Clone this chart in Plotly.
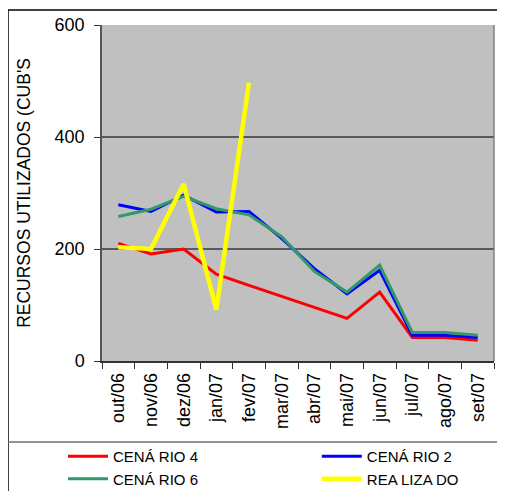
import plotly.graph_objects as go

months = ["out/06", "nov/06", "dez/06", "jan/07", "fev/07", "mar/07",
          "abr/07", "mai/07", "jun/07", "jul/07", "ago/07", "set/07"]

cenario4 = [210, 191, 200, 155, 135, 115, 96, 76, 123, 42, 42, 37]
cenario2 = [279, 267, 296, 266, 267, 219, 165, 120, 162, 46, 46, 42]
cenario6 = [258, 271, 294, 272, 261, 222, 160, 123, 171, 51, 51, 46]
realizado = [203, 200, 316, 92, 497]

y_ticks = [0, 200, 400, 600]

FONT = "Liberation Sans, Arial, sans-serif"

fig = go.Figure()
fig.add_trace(go.Scatter(x=months, y=cenario4, mode="lines", name="CENÁ RIO 4",
                         line=dict(color="#FF0000", width=3), legend="legend"))
fig.add_trace(go.Scatter(x=months, y=cenario2, mode="lines", name="CENÁ RIO 2",
                         line=dict(color="#0000FF", width=3), legend="legend2"))
fig.add_trace(go.Scatter(x=months, y=cenario6, mode="lines", name="CENÁ RIO 6",
                         line=dict(color="#339966", width=3), legend="legend"))
fig.add_trace(go.Scatter(x=months[:len(realizado)], y=realizado, mode="lines", name="REA LIZA DO",
                         line=dict(color="#FFFF00", width=4.5), legend="legend2"))

# outer frame lines and legend separator
fig.add_shape(type="line", xref="paper", yref="paper", x0=-0.2398, x1=1.04, y0=1.0446, y1=1.0446,
              line=dict(color="black", width=1.5))
fig.add_shape(type="line", xref="paper", yref="paper", x0=-0.2398, x1=-0.2398, y0=1.0446, y1=-0.42,
              line=dict(color="black", width=1.5))
fig.add_shape(type="line", xref="paper", yref="paper", x0=-0.2398, x1=1.04, y0=-0.241, y1=-0.241,
              line=dict(color="#707070", width=1.5))
# right border of plot area
fig.add_shape(type="line", xref="paper", yref="paper", x0=1, x1=1, y0=0, y1=1,
              line=dict(color="#808080", width=1.5))

legend_common = dict(orientation="v", yanchor="top", xanchor="left",
                     font=dict(size=15, family=FONT), itemwidth=40,
                     bgcolor="rgba(0,0,0,0)")

fig.update_layout(
    width=497, height=483,
    margin=dict(l=94, r=11, t=17, b=130, autoexpand=False),
    paper_bgcolor="white",
    plot_bgcolor="#C0C0C0",
    font=dict(family=FONT, size=17, color="black"),
    showlegend=True,
    legend=dict(x=-0.0995, y=-0.235, **legend_common),
    legend2=dict(x=0.548, y=-0.235, **legend_common),
    xaxis=dict(type="category", range=[-0.5, len(months) - 0.5], tickson="boundaries",
               ticks="outside", ticklen=6,
               tickcolor="#333", showline=True, linecolor="#333", linewidth=1.5,
               tickangle=-90, showgrid=False, mirror=False, ticklabelstandoff=3,
               tickfont=dict(size=18, family=FONT)),
    yaxis=dict(range=[0, 600], tickvals=y_ticks, ticks="outside", ticklen=6,
               tickcolor="#333", showline=True, linecolor="#555", linewidth=1.5,
               gridcolor="#5a5a5a", gridwidth=1.5, zeroline=False, ticklabelstandoff=6,
               tickfont=dict(size=18, family=FONT),
               title=dict(text="RECURSOS UTILIZADOS (CUB'S", font=dict(size=17.5, family=FONT),
                          standoff=19)),
)

fig.write_html("out.html")
